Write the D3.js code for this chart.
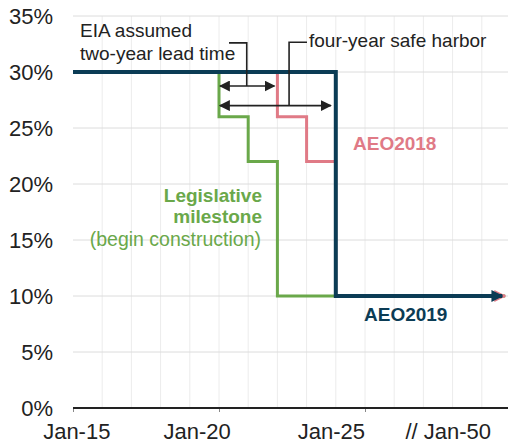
<!DOCTYPE html>
<html>
<head>
<meta charset="utf-8">
<script src="https://cdn.jsdelivr.net/npm/d3@7"></script>
<style>
  body { margin: 0; background: #fff; }
  svg { font-family: "Liberation Sans", Arial, sans-serif; }
</style>
</head>
<body>
<div id="chart"></div>
<script>
// Step series: year the rate starts applying, and the rate (%)
const legisYears = [2015, 2020, 2021, 2022];
const legisRates = [30, 26, 22, 10];
const aeo2018Years = [2015, 2022, 2023, 2024];
const aeo2018Rates = [30, 26, 22, 10];
const aeo2019Years = [2015, 2024];
const aeo2019Rates = [30, 10];
const endYear = 2029.8;

// Axis labels
const yTicks = [0, 5, 10, 15, 20, 25, 30, 35];
const xTickYears = [2015, 2020, 2025];
const xLabels = ["Jan-15", "Jan-20", "Jan-25", "// Jan-50"];

const W = 508, H = 445;
const x = d3.scaleLinear().domain([2015, 2030]).range([73, 511]);
const y = d3.scaleLinear().domain([0, 35]).range([408, 16]);

const svg = d3.select("#chart").append("svg")
    .attr("width", W).attr("height", H);

// Grid
svg.append("g").selectAll("line").data(d3.range(2016, 2030)).enter()
  .append("line")
    .attr("x1", d => x(d)).attr("x2", d => x(d))
    .attr("y1", y(35)).attr("y2", y(0))
    .attr("stroke", "#ececec").attr("stroke-width", 1);
svg.append("g").selectAll("line").data(yTicks.slice(1)).enter()
  .append("line")
    .attr("x1", x(2015)).attr("x2", W)
    .attr("y1", d => y(d)).attr("y2", d => y(d))
    .attr("stroke", "#dcdcdc").attr("stroke-width", 1);

// Y labels
svg.append("g").selectAll("text").data(yTicks).enter()
  .append("text")
    .attr("x", 53).attr("y", d => y(d) + 8)
    .attr("text-anchor", "end")
    .attr("font-size", 22).attr("fill", "#222")
    .text(d => d + "%");

// X axis
const xAxis = d3.axisBottom(x).tickValues(xTickYears).tickSize(4).tickFormat("");
const gx = svg.append("g").attr("transform", `translate(0,${y(0)})`).call(xAxis);
gx.select(".domain").remove();
gx.selectAll(".tick line").attr("stroke", "#888");
svg.append("line")
    .attr("x1", x(2015)).attr("x2", W)
    .attr("y1", y(0)).attr("y2", y(0))
    .attr("stroke", "#222").attr("stroke-width", 2.2);

// X labels (placed like the original, not centred on ticks)
const xLabelPos = [2015.13, 2019.25, 2023.85, 2027.85];
svg.append("g").selectAll("text").data(xLabels).enter()
  .append("text")
    .attr("x", (d, i) => x(xLabelPos[i]))
    .attr("y", 439)
    .attr("text-anchor", "middle")
    .attr("font-size", 22).attr("fill", "#222")
    .text(d => d);

// Arrow markers
const defs = svg.append("defs");
function marker(id, color, size) {
  defs.append("marker")
      .attr("id", id).attr("viewBox", "0 0 10 10")
      .attr("refX", 9).attr("refY", 5)
      .attr("markerWidth", size).attr("markerHeight", size)
      .attr("markerUnits", "userSpaceOnUse")
      .attr("orient", "auto-start-reverse")
    .append("path").attr("d", "M0,0L10,5L0,10z").attr("fill", color);
}
marker("arrBlack", "#222", 11);
marker("arrBlue", "#0b3c55", 12);
marker("arrPink", "#e07a86", 12);

// Step lines
function stepPoints(years, rates) {
  const pts = years.map((yr, i) => [yr, rates[i]]);
  pts.push([endYear, rates[rates.length - 1]]);
  return pts;
}
const line = d3.line().x(d => x(d[0])).y(d => y(d[1])).curve(d3.curveStepAfter);

svg.append("path").datum(stepPoints(legisYears, legisRates))
    .attr("d", line).attr("fill", "none")
    .attr("stroke", "#6aa84a").attr("stroke-width", 3);
svg.append("path").datum(stepPoints(aeo2018Years, aeo2018Rates))
    .attr("d", line).attr("fill", "none")
    .attr("stroke", "#e07a86").attr("stroke-width", 3)
    .attr("marker-end", "url(#arrPink)");
svg.append("path").datum(stepPoints(aeo2019Years, aeo2019Rates).map((d, i, a) => i === a.length - 1 ? [endYear - 0.1, d[1]] : d))
    .attr("d", line).attr("fill", "none")
    .attr("stroke", "#0b3c55").attr("stroke-width", 4)
    .attr("marker-end", "url(#arrBlue)");

// Lead time / safe harbor arrows
const ann = svg.append("g").attr("stroke", "#222").attr("stroke-width", 1.6).attr("fill", "none");
ann.append("line")
    .attr("x1", x(2020) + 1).attr("x2", x(2022) - 3)
    .attr("y1", y(28.75)).attr("y2", y(28.75))
    .attr("marker-start", "url(#arrBlack)").attr("marker-end", "url(#arrBlack)");
ann.append("line")
    .attr("x1", x(2020) + 1).attr("x2", x(2024) - 5)
    .attr("y1", y(27.0)).attr("y2", y(27.0))
    .attr("marker-start", "url(#arrBlack)").attr("marker-end", "url(#arrBlack)");
ann.append("polyline")
    .attr("points", [[229, y(32.6)], [x(2020.95), y(32.6)], [x(2020.95), y(28.75)]].join(" "));
ann.append("polyline")
    .attr("points", [[307, y(32.65)], [x(2022.4), y(32.65)], [x(2022.4), y(27.0)]].join(" "));

// Texts
const txt = (tx, ty, s, opts = {}) => svg.append("text")
    .attr("x", tx).attr("y", ty)
    .attr("font-size", opts.size || 19)
    .attr("font-weight", opts.bold ? "bold" : "normal")
    .attr("text-anchor", opts.anchor || "start")
    .attr("fill", opts.color || "#222")
    .text(s);

txt(80, 37, "EIA assumed");
txt(80, 60, "two-year lead time");
txt(309, 47, "four-year safe harbor");
txt(353, 150, "AEO2018", { bold: true, color: "#e07a86" });
txt(364, 321, "AEO2019", { bold: true, color: "#0b3c55" });
txt(262, 202, "Legislative", { bold: true, color: "#6aa84a", anchor: "end" });
txt(262, 223, "milestone", { bold: true, color: "#6aa84a", anchor: "end" });
txt(261, 246, "(begin construction)", { color: "#6aa84a", anchor: "end", size: 19.5 });
</script>
</body>
</html>
